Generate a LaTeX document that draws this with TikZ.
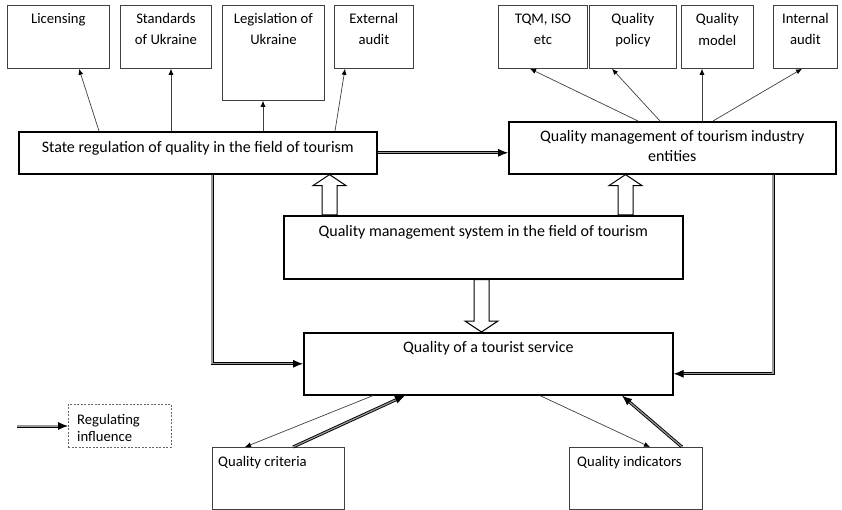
\documentclass[tikz,border=0pt]{standalone}
\usepackage{fontspec}
\setmainfont{Carlito}
\usetikzlibrary{arrows.meta,calc}
\tikzset{
  thinbox/.style={draw=black!75, line width=0.8pt, rectangle, inner sep=0pt, anchor=north west},
  thickbox/.style={draw=black, line width=1.6pt, rectangle, inner sep=0pt, anchor=north west},
  dashbox/.style={draw=black!60, dashed, dash pattern=on 2pt off 1.5pt, line width=0.7pt, rectangle, inner sep=0pt, anchor=north west},
  txt/.style={inner sep=0pt, align=center, anchor=base, font=\fontsize{14.67}{21.5}\selectfont},
  bigtxt/.style={inner sep=0pt, align=center, anchor=base, font=\fontsize{16}{20}\selectfont},
  thinarr/.style={draw=black!75, line width=0.7pt, -{Latex[length=6pt,width=5pt,color=black]}},
  dblarr/.style={double=black!40, double distance=1.2pt, line width=0.9pt, -{Latex[length=10pt,width=8pt]}},
  hollowst/.style={draw=black, line width=1pt, fill=white, line join=miter}
}
\newcommand\hollowarrow[2]{%
  \draw[hollowst] let \p1=(#1), \p2=(#2), \n1={sign(\y2-\y1)} in
    (\x1-7.5pt,\y1) -- (\x1-7.5pt,\y2-\n1*11pt) -- (\x1-16.5pt,\y2-\n1*11pt) -- (\x2,\y2)
    -- (\x1+16.5pt,\y2-\n1*11pt) -- (\x1+7.5pt,\y2-\n1*11pt) -- (\x1+7.5pt,\y1) -- cycle;}
\begin{document}
\begin{tikzpicture}[x=1pt,y=-1pt]
\useasboundingbox[fill=white] (0,0) rectangle (842,510);
% top left boxes
\node[thinbox, minimum width=102pt, minimum height=63pt] (lic) at (7,5) {};
\node[thinbox, minimum width=91pt, minimum height=63pt] (std) at (120,5) {};
\node[thinbox, minimum width=102pt, minimum height=95pt] (leg) at (222,5) {};
\node[thinbox, minimum width=79pt, minimum height=63pt] (ext) at (334,5) {};
\node[txt] (licT) at ([yshift=-19pt]lic.north) {Licensing};
\node[txt] (stdT) at ([yshift=-40pt]std.north) {Standards\\of Ukraine};
\node[txt] (legT) at ([yshift=-40pt]leg.north) {Legislation of\\Ukraine};
\node[txt] (extT) at ([yshift=-40pt]ext.north) {External\\audit};
% top right boxes
\node[thinbox, minimum width=89pt, minimum height=63pt] (tqm) at (498,5) {};
\node[thinbox, minimum width=87pt, minimum height=63pt] (pol) at (589,5) {};
\node[thinbox, minimum width=72pt, minimum height=63pt] (mod) at (681,5) {};
\node[thinbox, minimum width=64pt, minimum height=63pt] (int) at (773,5) {};
\node[txt] (tqmT) at ([yshift=-40pt]tqm.north) {TQM, ISO\\etc};
\node[txt] (polT) at ([yshift=-40pt]pol.north) {Quality\\policy};
\node[txt] (modT) at ([yshift=-40.5pt]mod.north) {Quality\\model};
\node[txt] (intT) at ([yshift=-40pt]int.north) {Internal\\audit};
% main boxes
\node[thickbox, minimum width=358pt, minimum height=42pt] (sr) at (18,131) {};
\node[bigtxt] (srT) at ([yshift=-22pt]sr.north) {State regulation of quality in the field of tourism};
\node[thickbox, minimum width=327pt, minimum height=52pt] (qm) at (508,121) {};
\node[bigtxt] (qmT) at ([yshift=-40.5pt]qm.north) {Quality management of tourism industry\\entities};
\node[thickbox, minimum width=399pt, minimum height=63pt] (sys) at (283,215) {};
\node[bigtxt] (sysT) at ([yshift=-21.5pt]sys.north) {Quality management system in the field of tourism};
\node[thickbox, minimum width=369pt, minimum height=62pt] (svc) at (303,332) {};
\node[bigtxt] (svcT) at ([yshift=-20pt]svc.north) {Quality of a tourist service};
% bottom boxes
\node[thinbox, minimum width=132pt, minimum height=62pt] (crit) at (212,447) {};
\node[txt, anchor=base west] (critT) at (218,466.5) {Quality criteria};
\node[thinbox, minimum width=133pt, minimum height=62pt] (ind) at (569,447) {};
\node[txt, anchor=base west] (indT) at (577,466.5) {Quality indicators};
% legend
\node[dashbox, minimum width=103pt, minimum height=43pt] (leg2) at (68,404) {};
\node[txt, anchor=base west, align=left, font=\fontsize{14.67}{17}\selectfont] (leg2T) at (77,441) {Regulating\\influence};
\coordinate (legstart) at (17,426);
\draw[dblarr] (legstart) -- (legstart -| leg2.west);
% thin arrows from state regulation
\draw[thinarr] ([xshift=81pt]sr.north west) -- ([xshift=72pt]lic.south west);
\draw[thinarr] ([xshift=153pt]sr.north west) -- ([xshift=51pt]std.south west);
\draw[thinarr] ([xshift=245pt]sr.north west) -- ([xshift=41pt]leg.south west);
\draw[thinarr] ([xshift=317pt]sr.north west) -- ([xshift=11pt]ext.south west);
% thin arrows from quality management
\draw[thinarr] ([xshift=130pt]qm.north west) -- ([xshift=32pt]tqm.south west);
\draw[thinarr] ([xshift=152pt]qm.north west) -- ([xshift=23pt]pol.south west);
\draw[thinarr] ([xshift=194pt]qm.north west) -- ([xshift=21pt]mod.south west);
\draw[thinarr] ([xshift=205pt]qm.north west) -- ([xshift=29pt]int.south west);
% double arrows
\draw[dblarr] (sr.east) -- (sr.east -| qm.west);
\draw[dblarr] ([xshift=194pt]sr.south west) |- (svc.west);
\draw[dblarr] ([xshift=265pt]qm.south west) |- ([yshift=-10pt]svc.east);
% hollow arrows
\coordinate (ha1) at (329.5,0);
\coordinate (ha2) at (625.5,0);
\coordinate (ha3) at (481.5,0);
\hollowarrow{ha1 |- sys.north}{ha1 |- sr.south}
\hollowarrow{ha2 |- sys.north}{ha2 |- qm.south}
\hollowarrow{ha3 |- sys.south}{ha3 |- svc.north}
% bottom arrows
\draw[thinarr] ([xshift=70pt]svc.south west) -- ([xshift=33pt]crit.north west);
\draw[dblarr] ([xshift=81pt]crit.north west) -- ([xshift=102pt]svc.south west);
\draw[thinarr] ([xshift=237pt]svc.south west) -- ([xshift=81pt]ind.north west);
\draw[dblarr] ([xshift=113pt]ind.north west) -- ([xshift=319pt]svc.south west);
\end{tikzpicture}
\end{document}
